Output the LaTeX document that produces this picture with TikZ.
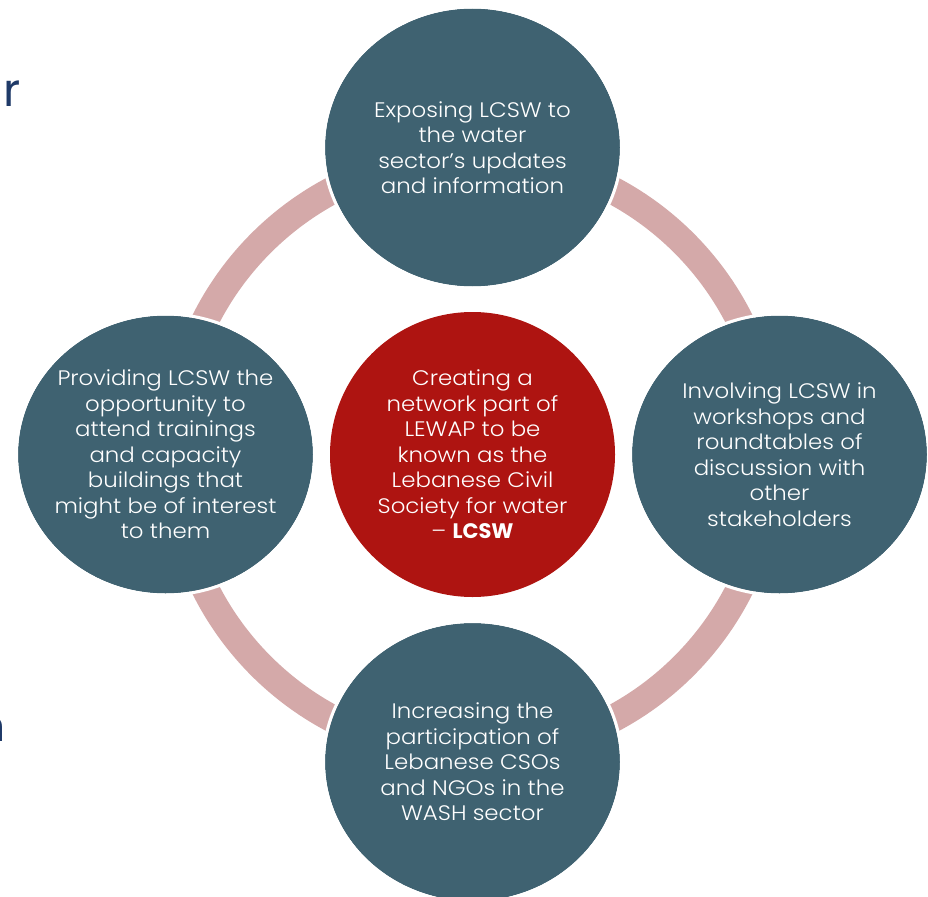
\documentclass[tikz,border=0pt]{standalone}
\usepackage{fontspec}
\setmainfont{Poppins Light}[FakeStretch=1.09, BoldFont={Poppins Bold}, BoldFeatures={FakeStretch=1.0}]
\newfontfamily\slidefont{Poppins}
\definecolor{teal}{HTML}{3F6271}
\definecolor{core}{HTML}{AE1411}
\definecolor{ringc}{HTML}{D4A9A9}
\definecolor{navy}{HTML}{1F3A68}
\tikzset{
  bub/.style={fill=teal},
  bubedge/.style={draw=white, line width=3pt},
  txt/.style={text=white, align=center, inner sep=0pt, font=\fontsize{21}{25.5}\selectfont},
  ringstyle/.style={draw=ringc, line width=27.5pt},
}
\begin{document}
\begin{tikzpicture}[x=1pt,y=-1pt]
\useasboundingbox (0,0) rectangle (928,896);
\clip (0,0) rectangle (928,896);
% partial slide letters at left edge
\node[anchor=base west, text=navy, inner sep=0pt, font=\slidefont\fontsize{46}{50}\selectfont] (rr) at (3,107) {r};
\node[anchor=base east, text=navy, inner sep=0pt, font=\slidefont\fontsize{44}{50}\selectfont] (nn) at (6,741) {n};
% ring
\coordinate (c) at (472.5,454.5);
\draw[ringstyle] (c) circle [radius=299pt];
% outer bubbles
\foreach \x/\y in {472.5/147.5, 165.5/454.5, 779.5/454.5, 472.5/762}{
  \fill[bub] (\x,\y) ellipse [x radius=147.5pt, y radius=139pt];
  \draw[bubedge] (\x,\y) ellipse [x radius=149pt, y radius=140.5pt];
}
% centre bubble
\fill[core] (c) circle [radius=142.5pt];
% texts
\node[txt] (top) at (472.5,147.5) {Exposing LCSW to\\the water\\sector’s updates\\and information};
\node[txt] (left) at (165.5,454.5) {Providing LCSW the\\opportunity to\\attend trainings\\and capacity\\buildings that\\might be of interest\\to them};
\node[txt] (right) at (779.5,454.5) {Involving LCSW in\\workshops and\\roundtables of\\discussion with\\other\\stakeholders};
\node[txt] (bottom) at (472.5,762) {Increasing the\\participation of\\Lebanese CSOs\\and NGOs in the\\WASH sector};
\node[txt] (centre) at (c) {Creating a\\network part of\\LEWAP to be\\known as the\\Lebanese Civil\\Society for water\\– \textbf{LCSW}};
\end{tikzpicture}
\end{document}
